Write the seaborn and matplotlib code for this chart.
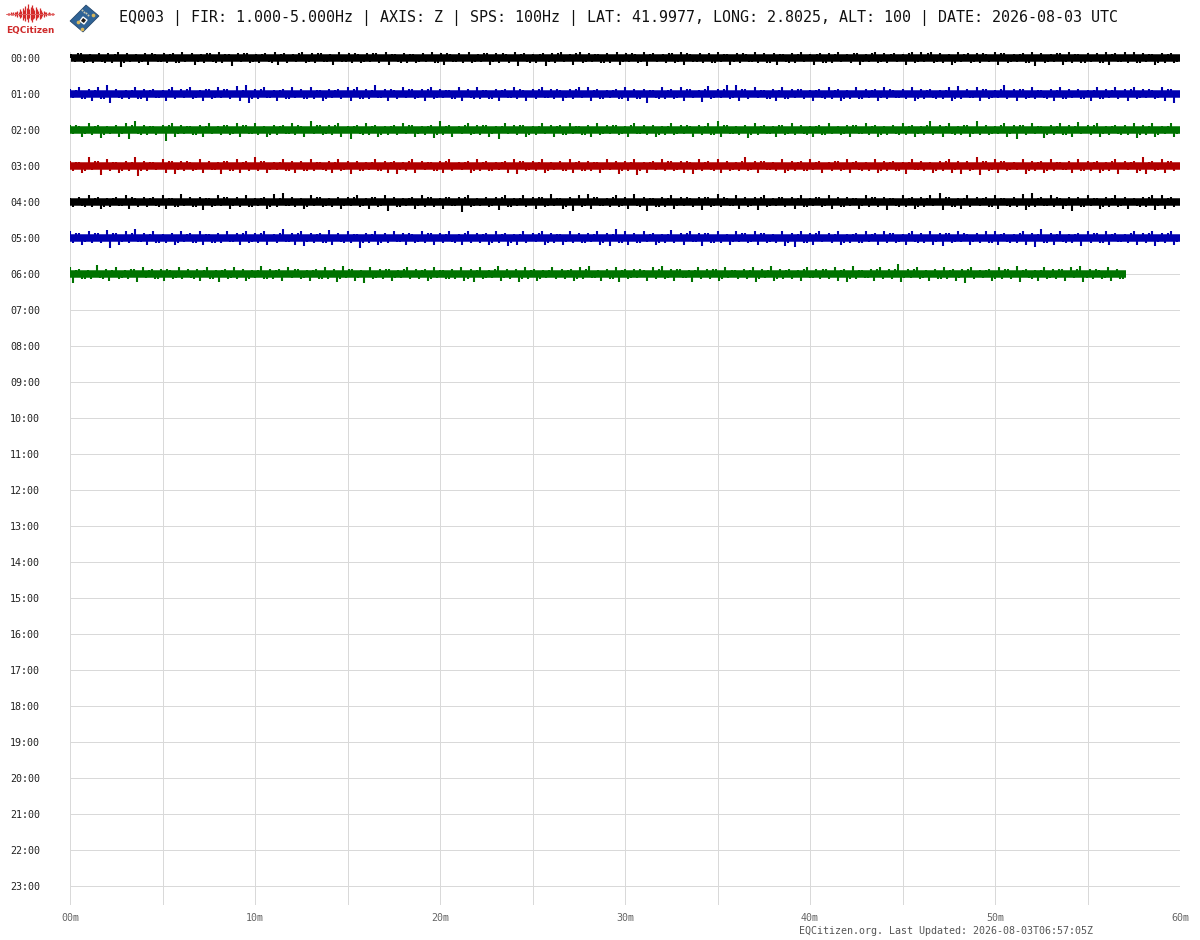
import numpy as np
import matplotlib
matplotlib.use('Agg')
import matplotlib.pyplot as plt
import seaborn as sns
from matplotlib.patches import Polygon

# Titulos y etiquetas
titulo = 'EQ003 | FIR: 1.000-5.000Hz | AXIS: Z | SPS: 100Hz | LAT: 41.9977, LONG: 2.8025, ALT: 100 | DATE: 2026-08-03 UTC'
pie = 'EQCitizen.org. Last Updated: 2026-08-03T06:57:05Z'
horas = [f'{h:02d}:00' for h in range(24)]
minutos = list(range(0, 61, 5))
etiquetas_min = ['00m', '', '10m', '', '20m', '', '30m', '', '40m', '', '50m', '', '60m']

# Trazas: color, inicio y fin en minutos
colores = ['#000000', '#0000B0', '#007300', '#B00000', '#000000', '#0000B0', '#007300']
inicio = [0.08, 0, 0, 0, 0, 0, 0]
fin = [60, 60, 60, 60, 60, 60, 57.08]

# Picos, amplitud sobre el centro de cada fila
arriba_00 = [4,5,4,5,5,6,5,4,5,4,5,5,7,5,4,5,6,4,5,5,
             4,5,7,5,4,7,5,5,4,6,5,4,5,5,6,4,5,4,5,6,
             5,4,5,6,4,5,5,4,6,5,4,5,5,6,4,7,5,4,5,7,
             5,4,8,5,4,5,6,4,5,5,6,4,5,4,6,5,5,4,5,6,
             4,5,5,6,4,5,4,6,5,5,4,6,6,8,5,4,8,5,5,4,
             6,5,4,5,6,5,4,5,6,4,5,5,7,5,6,7,5,4,5,5]
abajo_00 = [4,5,5,4,5,8,4,5,6,4,5,5,4,6,5,4,5,7,4,5,
            5,4,6,5,4,5,5,4,6,4,5,5,4,5,6,4,5,5,4,5,
            6,4,5,5,4,6,5,5,7,4,5,7,5,4,6,5,4,5,5,6,
            4,5,7,4,5,5,6,4,5,5,4,6,5,4,5,5,6,4,5,4,
            6,5,5,4,5,6,4,5,5,4,6,5,4,5,5,6,4,5,5,4,
            6,5,4,5,7,5,4,6,5,5,4,5,6,4,5,5,4,6,5,5]
extra_00 = [5,4,3,5,4,5,3,4,5,4,4,5,3,4,5,5,4,3,5,4,
            4,5,4,3,5,4,5,4,3,4,5,4,5,3,4,5,4,4,3,5,
            5,4,3,4,5,4,5,3,4,5,4,4,5,3,5,4,4,5,3,4,
            5,4,4,3,5,4,5,4,3,5,4,4,5,4,3,5,4,5,4,3,
            4,5,4,3,5,4,5,4,4,3,5,4,5,4,3,5,4,4,5,3,
            5,4,4,5,3,4,5,4,4,5,3,5,4,4,3,5,4,5,4,4]
arriba_01 = [5,6,5,6,8,5,4,6,5,5,4,6,5,6,4,5,6,5,7,8,
             5,6,4,5,6,5,6,4,5,5,6,6,5,8,5,4,6,5,5,6,
             5,4,6,5,6,4,5,5,6,4,5,6,5,4,5,6,6,5,4,5,
             6,5,5,4,6,5,6,5,4,7,5,8,8,5,6,4,5,6,5,5,
             4,5,6,5,4,6,5,5,6,4,5,6,5,5,4,6,7,5,6,5,
             4,8,5,5,6,4,5,6,5,5,4,6,5,6,5,6,5,4,6,5]
abajo_01 = [4,5,6,5,8,4,5,5,6,4,6,5,4,5,6,5,4,5,6,8,
            5,4,6,5,4,5,5,6,4,5,6,5,5,4,6,5,4,5,6,5,
            4,5,6,4,5,5,6,4,5,6,5,4,5,6,5,4,6,5,4,5,
            6,5,8,4,5,5,6,4,7,5,4,5,6,5,4,5,6,5,4,5,
            6,4,5,6,5,5,4,6,5,4,5,6,5,4,5,6,5,4,6,5,
            4,5,6,5,5,4,6,5,4,5,6,5,4,5,6,5,4,5,6,8]
extra_01 = [4,5,4,5,3,5,4,5,4,4,5,3,5,4,5,4,5,3,4,5,
            5,4,4,5,3,5,4,5,4,3,5,5,4,4,5,3,5,4,5,4,
            4,5,3,5,4,5,4,4,5,3,5,4,5,4,5,3,4,5,4,5,
            3,5,4,5,4,4,5,3,5,4,5,4,5,3,4,5,4,5,5,3,
            4,5,4,5,3,5,4,4,5,4,3,5,4,5,4,5,3,4,5,4,
            5,3,5,4,4,5,4,5,3,5,4,5,4,3,5,4,5,4,5,3]
arriba_02 = [5,4,6,5,4,5,6,8,5,4,5,6,5,4,5,6,4,5,6,5,
             6,4,5,5,6,4,8,5,5,6,4,5,6,5,4,5,6,5,4,5,
             8,5,4,6,5,5,4,6,5,5,4,6,5,5,6,4,5,6,5,5,
             4,6,5,5,4,6,5,4,5,6,8,5,4,5,6,5,4,5,6,5,
             4,5,6,4,5,5,6,5,4,5,6,5,4,8,5,6,4,5,8,5,
             4,6,5,5,6,4,5,6,5,7,5,6,4,5,5,6,5,6,4,6]
abajo_02 = [4,6,5,7,4,6,8,4,5,5,10,6,4,5,6,4,5,5,6,4,
            5,6,5,4,5,6,4,5,5,6,8,4,5,6,5,5,4,6,5,7,
            5,6,4,5,5,6,8,4,5,6,5,4,6,5,4,5,6,5,4,5,
            6,4,5,6,5,5,4,6,5,5,6,4,5,7,5,4,6,5,5,4,
            6,5,4,5,6,4,5,6,5,4,5,6,5,5,6,4,5,6,5,5,
            4,6,8,5,4,7,5,5,6,4,5,6,5,4,5,7,5,6,4,6]
extra_02 = [5,4,4,5,3,4,5,5,4,3,5,4,4,5,4,3,5,4,5,4,
            3,5,4,4,5,3,5,4,5,3,4,5,4,5,4,3,5,4,4,5,
            4,3,5,4,5,4,4,3,5,5,4,3,4,5,4,5,3,4,5,4,
            5,4,3,5,4,4,5,3,4,5,5,4,3,5,4,4,5,4,3,5,
            4,5,3,4,5,4,4,5,3,5,4,4,5,3,4,5,5,4,3,4,
            5,4,5,3,4,5,4,5,4,3,5,4,4,5,3,5,4,5,4,4]
arriba_03 = [5,4,8,5,6,4,5,8,5,4,6,5,5,4,6,5,4,5,6,5,
             8,5,4,6,5,5,6,4,5,6,5,5,4,6,5,5,4,6,5,4,
             5,6,4,5,6,5,4,5,6,5,5,6,4,5,6,5,5,4,6,5,
             5,6,4,5,6,5,5,4,6,5,6,5,4,8,5,5,4,6,5,5,
             6,5,4,5,6,5,4,6,5,5,4,6,5,4,5,6,5,5,8,5,
             6,5,4,6,5,5,6,4,5,6,5,5,4,6,5,5,8,5,6,5]
abajo_03 = [5,6,4,8,5,6,5,9,5,4,6,7,5,5,6,4,7,5,6,5,
            5,6,4,5,6,5,5,4,6,5,7,5,4,5,6,7,5,6,4,5,
            6,5,4,6,5,5,4,6,7,5,5,6,4,5,6,5,5,6,4,7,
            5,8,6,4,5,5,6,7,5,4,6,5,5,5,6,4,5,6,5,5,
            4,6,5,5,6,4,5,6,5,5,7,4,5,6,5,6,7,5,8,5,
            6,5,4,7,5,6,5,4,6,5,5,6,5,7,4,6,7,5,6,5]
extra_03 = [4,5,5,3,4,5,4,5,4,3,5,4,5,4,3,4,5,5,4,3,
            5,4,4,5,3,5,4,5,4,4,3,5,4,5,4,4,5,3,4,5,
            5,3,4,5,4,5,4,3,5,4,4,5,3,5,4,5,4,4,3,5,
            4,5,4,3,5,4,5,4,4,5,3,4,5,4,5,4,3,5,4,5,
            4,3,5,4,4,5,3,5,4,5,4,4,3,5,5,4,3,4,5,4,
            5,4,3,5,4,5,4,4,3,5,4,5,5,3,4,5,4,4,5,3]
arriba_04 = [4,5,6,5,4,5,6,4,5,5,6,4,7,5,5,4,6,5,5,6,
             4,5,7,8,5,4,6,5,4,5,5,6,4,5,6,5,4,5,6,5,
             4,5,5,6,4,5,5,6,4,6,5,5,7,4,5,6,7,5,4,6,
             5,7,5,4,5,6,5,4,5,5,7,4,6,5,5,6,4,5,5,6,
             4,5,6,5,5,4,6,5,5,4,6,5,5,6,8,5,4,6,5,5,
             6,4,5,7,8,5,6,4,5,5,6,4,5,6,5,4,5,6,6,5]
abajo_04 = [5,4,5,6,5,4,6,5,5,4,6,5,4,5,7,5,4,6,5,5,
            4,6,5,4,5,6,4,5,5,6,4,5,6,5,8,5,4,6,5,5,
            6,4,9,5,4,5,7,5,4,5,6,5,4,6,8,5,6,4,5,5,
            6,4,8,5,5,6,4,5,7,5,5,4,6,5,7,5,4,5,6,5,
            4,5,6,5,4,6,5,5,7,4,5,6,5,4,7,5,6,5,4,5,
            6,4,5,7,5,4,5,6,8,5,4,6,5,5,6,4,5,7,6,5]
extra_04 = [3,5,4,5,4,4,5,3,4,5,4,5,3,5,4,4,5,4,3,5,
            4,5,4,4,3,5,5,4,3,4,5,4,5,4,3,5,4,4,5,3,
            5,4,5,4,3,4,5,5,4,3,5,4,4,5,3,4,5,4,5,4,
            3,5,4,5,4,4,5,3,5,4,5,4,3,4,5,4,5,3,4,5,
            5,4,3,5,4,4,5,3,4,5,4,5,4,3,5,5,4,3,4,5,
            4,5,3,5,4,4,5,4,3,5,4,5,4,4,3,5,5,4,4,3]
arriba_05 = [6,5,6,5,7,5,6,8,5,6,4,5,6,5,6,4,5,6,5,6,
             5,6,4,8,5,6,5,5,7,5,6,4,5,6,5,6,5,4,6,5,
             5,6,4,6,5,5,6,5,4,6,5,6,5,4,6,5,5,6,5,8,
             6,5,6,5,4,7,5,6,5,5,6,4,6,5,6,5,4,6,5,6,
             5,6,5,6,4,5,6,5,6,5,4,6,5,6,5,5,6,4,5,6,
             6,5,4,6,5,8,5,6,4,5,6,5,6,5,4,6,5,6,5,6]
abajo_05 = [5,6,5,5,9,6,5,4,6,5,5,6,4,5,6,5,5,4,6,5,
            5,6,5,4,6,7,5,5,6,4,5,9,5,6,5,4,6,5,5,6,
            5,4,6,5,5,6,5,7,6,5,4,6,5,6,5,5,4,6,7,5,
            6,5,4,6,5,5,6,4,7,5,5,6,4,5,6,5,5,7,8,5,
            6,4,5,6,5,5,4,6,5,5,6,4,5,6,7,5,4,6,5,5,
            6,4,5,6,8,5,6,4,5,7,5,5,6,4,5,6,5,7,5,6]
extra_05 = [5,4,5,3,5,4,5,4,4,5,3,5,4,5,4,5,3,4,5,4,
            5,3,5,4,5,4,4,5,3,5,4,5,4,5,3,4,5,4,5,3,
            4,5,5,3,4,5,4,5,4,3,5,5,4,4,3,5,4,5,4,5,
            3,5,4,5,4,3,5,4,5,5,3,4,5,4,5,4,3,5,4,5,
            5,3,4,5,4,5,4,3,5,4,5,5,3,4,5,4,5,4,3,5,
            4,5,5,3,4,5,4,5,4,3,5,5,4,4,5,3,5,4,5,4]
arriba_06 = [6,5,4,8,5,6,4,5,6,5,5,4,6,5,5,6,4,5,6,5,
             4,7,5,5,6,5,4,5,6,5,7,5,4,6,5,5,4,6,5,5,
             6,4,5,6,5,6,4,7,5,5,6,5,4,6,5,5,6,7,4,5,
             6,5,5,4,6,7,5,5,4,6,5,5,6,4,5,6,5,7,5,5,
             4,6,5,5,6,5,7,4,5,6,5,9,5,6,4,5,6,5,5,6,
             4,5,6,5,7,5,4,6,5,5,6,7,5,4,6,5]
abajo_06 = [8,5,5,4,6,5,5,7,4,5,6,5,5,4,6,5,7,5,5,6,
            4,5,5,6,4,5,6,5,5,7,4,6,8,5,5,6,4,5,5,6,
            4,5,5,6,7,5,4,6,5,7,5,6,4,5,5,6,5,4,6,5,
            7,5,4,6,5,5,6,4,7,5,5,6,4,5,5,7,4,6,5,5,
            6,4,5,5,6,7,5,4,6,5,5,7,4,5,6,5,5,6,8,5,
            4,6,5,5,7,4,6,5,5,6,4,7,5,5,6,5]
extra_06 = [4,5,3,5,4,4,5,3,4,5,5,4,3,5,4,5,4,4,3,5,
            4,5,4,3,5,4,4,5,3,5,5,4,3,4,5,4,5,3,4,5,
            4,5,3,5,4,4,5,4,3,5,4,5,4,3,4,5,5,4,3,5,
            4,4,5,3,5,4,5,4,4,3,5,5,4,3,4,5,4,5,4,3,
            5,4,5,3,4,5,4,4,5,3,5,4,5,4,3,5,4,4,5,3,
            4,5,5,3,4,5,4,4,5,3,5,4,5,4,3,5]
arriba = [arriba_00, arriba_01, arriba_02, arriba_03, arriba_04, arriba_05, arriba_06]
abajo = [abajo_00, abajo_01, abajo_02, abajo_03, abajo_04, abajo_05, abajo_06]
extra = [extra_00, extra_01, extra_02, extra_03, extra_04, extra_05, extra_06]

# Logo: alturas del pequeño sismograma rojo
logo_alturas = [1,1,2,1,2,3,2,4,3,6,4,8,5,10,7,12,6,9,11,7,5,9,6,4,7,5,3,4,2,3,1,2,1,1,1]

sns.set_style('white')
plt.rcParams['font.family'] = ['DejaVu Sans Mono']

fig = plt.figure(figsize=(12, 9.4), dpi=100)
ax = fig.add_axes([70 / 1200, 1 - 905 / 940, 1110 / 1200, 853 / 940])

# Rejilla
ax.set_xlim(0, 60)
ax.set_ylim(23.53, -0.167)
ax.set_xticks(minutos)
ax.set_xticklabels(etiquetas_min, fontsize=7.2, color='#666666')
ax.set_yticks(range(24))
ax.set_yticklabels(horas, fontsize=7.2, color='#222222')
ax.tick_params(axis='x', length=0, pad=6)
ax.tick_params(axis='y', length=0, pad=21.5)
ax.grid(True, color='#d9d9d9', linewidth=0.72)
ax.set_axisbelow(True)
sns.despine(ax=ax, left=True, bottom=True)

# Trazas: banda central y picos a los dos lados
escala = 33
for fila in range(len(colores)):
    c = colores[fila]
    sns.lineplot(x=[inicio[fila], fin[fila]], y=[fila, fila], ax=ax, color=c,
                 linewidth=5.4, solid_capstyle='butt', errorbar=None)
    n = len(arriba[fila])
    paso = (fin[fila] - inicio[fila]) / n
    xs = inicio[fila] + np.arange(n) * paso
    ax.vlines(xs, fila - np.array(arriba[fila]) / escala, fila, color=c, linewidth=1.5)
    ax.vlines(xs + paso / 3, fila, fila + np.array(abajo[fila]) / escala, color=c, linewidth=1.5)
    m = np.array(extra[fila]) / escala
    signo = np.where(np.arange(len(m)) % 2 == 0, -1, 1)
    ax.vlines(xs[:len(m)] + 2 * paso / 3, fila, fila + signo * m, color=c, linewidth=1.5)

# Capa en pixeles para logos y textos
capa = fig.add_axes([0, 0, 1, 1], facecolor='none')
capa.set_xlim(0, 1200)
capa.set_ylim(940, 0)
capa.axis('off')

xs_logo = np.linspace(8, 53, len(logo_alturas))
alturas = np.array(logo_alturas)
capa.vlines(xs_logo, 14 - alturas * 0.8, 14 + alturas * 0.7, color='#d42a2a', linewidth=0.9)
capa.plot([6, 54], [14, 14], color='#e06060', linewidth=0.7)
capa.text(30, 30, 'EQCitizen', color='#cf2b2b', fontsize=6.4, fontweight='bold',
          family='DejaVu Sans', ha='center', va='center')

placa = Polygon([(86, 5), (99, 16), (83, 32), (70, 21)], closed=True, facecolor='#2f6396', edgecolor='#1d3f63', linewidth=0.5)
capa.add_patch(placa)
capa.add_patch(Polygon([(83, 17), (87, 20), (84, 24), (80, 21)], closed=True, facecolor='#1a1a1a'))
capa.scatter([93, 78, 82], [15, 22, 29], s=7, color='#d8b65a', linewidths=0)
capa.scatter([82, 84, 86, 88], [10, 12, 13, 15], s=2, color='#c9c9b0', linewidths=0)

capa.text(119, 18, titulo, fontsize=10.8, color='#111111', ha='left', va='center')
capa.text(799, 931, pie, fontsize=7.2, color='#555555', ha='left', va='center')

fig.savefig('out.png', dpi=100)
plt.close(fig)
